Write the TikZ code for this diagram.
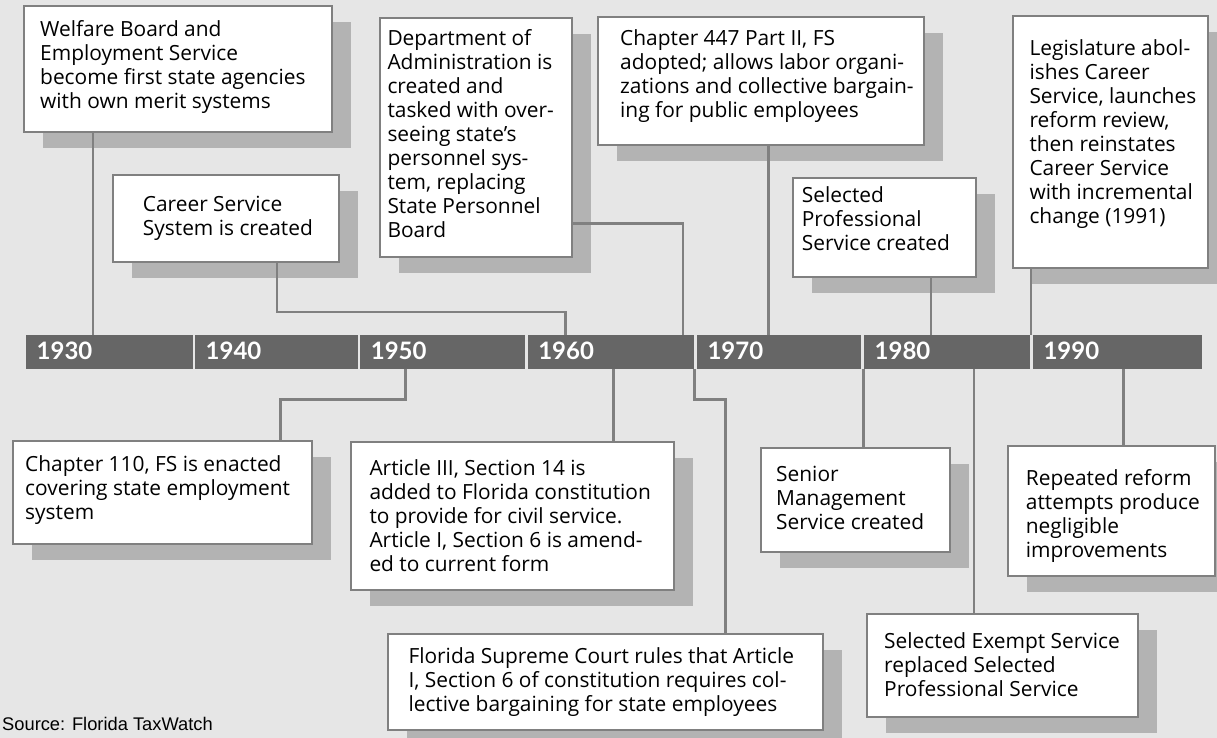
\documentclass[tikz,border=0pt]{standalone}
\usepackage{fontspec}
\setmainfont{Open Sans}
\newfontfamily\srcfont{Liberation Sans}
\newfontfamily\yrfont{Lato}
\usetikzlibrary{shadows}
\definecolor{bgc}{HTML}{E6E6E6}
\definecolor{boxline}{HTML}{808080}
\definecolor{shadowc}{HTML}{B3B3B3}
\definecolor{barc}{HTML}{666666}
\definecolor{connc}{HTML}{808080}
\tikzset{
  evbox/.style={draw=boxline, line width=2.2pt, fill=white, inner sep=0pt, anchor=north west,
    drop shadow={shadow xshift=18.5pt, shadow yshift=-16pt, fill=shadowc, opacity=1}},
  txt/.style={anchor=north west, inner sep=0pt, align=left, text=black,
    font=\fontsize{20.9}{24}\selectfont},
  seg/.style={fill=barc, draw=none, inner sep=0pt, anchor=north west, minimum height=33.7pt},
  yrlab/.style={anchor=base west, inner sep=0pt, text=white, font=\yrfont\fontsize{24}{28}\selectfont\bfseries},
  conn/.style={draw=connc, line width=2.4pt}
}
\newcommand{\evbox}[5]{\node[evbox, minimum width={#4-#2}, minimum height={#5-#3}] (#1) at (#2,#3) {};}
\newcommand{\evtext}[4]{\node[txt] (#1) at (#2,#3-16.8) {\strut #4};}
\begin{document}
\begin{tikzpicture}[x=1pt,y=-1pt]
\fill[bgc] (0,0) rectangle (1217,738);
\useasboundingbox (0,0) rectangle (1217,738);

% timeline segments
\foreach \yr/\sx/\ex in {1930/26/192.3,1940/195/357.5,1950/360.2/524.7,1960/527.6/693.7,1970/696.8/861,1980/864/1030,1990/1032.8/1202}{
  \node[seg, minimum width={\ex-\sx}] (y\yr) at (\sx,335) {};
  \node[yrlab] (l\yr) at (\sx+10.5,359.3) {\yr};
}

% connector coordinates
\coordinate (c1) at (93,0);
\coordinate (k2) at (277,312);
\coordinate (m2) at (565.4,312);
\coordinate (k3) at (682.7,223.3);
\coordinate (c4) at (768.3,0);
\coordinate (c5) at (931,0);
\coordinate (c6) at (1030.7,0);
\coordinate (k7) at (405.3,399.3);
\coordinate (m7) at (280.5,399.3);
\coordinate (c8) at (613.3,0);
\coordinate (k9) at (694.5,399.3);
\coordinate (m9) at (725.3,399.3);
\coordinate (c10) at (863.3,0);
\coordinate (c11) at (1123.4,0);
\coordinate (c12) at (974,0);

% boxes
\evbox{b1}{23}{5}{331}{131}
\evbox{b2}{112}{174}{338}{261}
\evbox{b3}{379}{17}{571}{256}
\evbox{b4}{597}{16}{923}{144}
\evbox{b5}{792}{177}{975}{276}
\evbox{b6}{1012}{15}{1207}{267}
\evbox{b7}{12}{440}{311}{543}
\evbox{b8}{350}{441}{673}{589}
\evbox{b9}{387}{633}{822}{729}
\evbox{b10}{760}{447}{949}{551}
\evbox{b11}{1007}{445}{1214}{575}
\evbox{b12}{866}{613}{1137}{716}

% connectors
\draw[conn] (b1.south -| c1) -- (y1930.north -| c1);
\draw[conn] (b2.south -| k2) -- (k2) -- (m2) -- (y1960.north -| m2);
\draw[conn] (b3.east |- k3) -- (k3) -- (y1960.north -| k3);
\draw[conn] (b4.south -| c4) -- (y1970.north -| c4);
\draw[conn] (b5.south -| c5) -- (y1980.north -| c5);
\draw[conn] (b6.south -| c6) -- (y1980.north -| c6);
\draw[conn] (y1950.south -| k7) -- (k7) -- (m7) -- (b7.north -| m7);
\draw[conn] (y1960.south -| c8) -- (b8.north -| c8);
\draw[conn] (y1970.south -| k9) -- (k9) -- (m9) -- (b9.north -| m9);
\draw[conn] (y1980.south -| c10) -- (b10.north -| c10);
\draw[conn] (y1980.south -| c12) -- (b12.north -| c12);
\draw[conn] (y1990.south -| c11) -- (b11.north -| c11);

% texts
\evtext{t1}{40}{36.7}{Welfare Board and\\Employment Service\\become first state agencies\\with own merit systems}
\evtext{t2}{142.7}{211.7}{Career Service\\System is created}
\evtext{t3}{387.3}{45.7}{Department of\\Administration is\\created and\\tasked with over-\\seeing state’s\\personnel sys-\\tem, replacing\\State Personnel\\Board}
\evtext{t4}{620}{45}{Chapter 447 Part II, FS\\adopted; allows labor organi-\\zations and collective bargain-\\ing for public employees}
\evtext{t5}{801.7}{202.7}{Selected\\Professional\\Service created}
\evtext{t6}{1029.3}{55}{Legislature abol-\\ishes Career\\Service, launches\\reform review,\\then reinstates\\Career Service\\with incremental\\change (1991)}
\evtext{t7}{25}{471.7}{Chapter 110, FS is enacted\\covering state employment\\system}
\evtext{t8}{369.3}{475}{Article III, Section 14 is\\added to Florida constitution\\to provide for civil service.\\Article I, Section 6 is amend-\\ed to current form}
\evtext{t9}{408.3}{663.3}{Florida Supreme Court rules that Article\\I, Section 6 of constitution requires col-\\lective bargaining for state employees}
\evtext{t10}{776}{481}{Senior\\Management\\Service created}
\evtext{t11}{1025.7}{485}{Repeated reform\\attempts produce\\negligible\\improvements}
\evtext{t12}{884}{648.3}{Selected Exempt Service\\replaced Selected\\Professional Service}

\node[anchor=base west, inner sep=0pt, font=\srcfont\fontsize{18.3}{20}\selectfont] (src) at (2,730) {Source: Florida TaxWatch};
\end{tikzpicture}
\end{document}
